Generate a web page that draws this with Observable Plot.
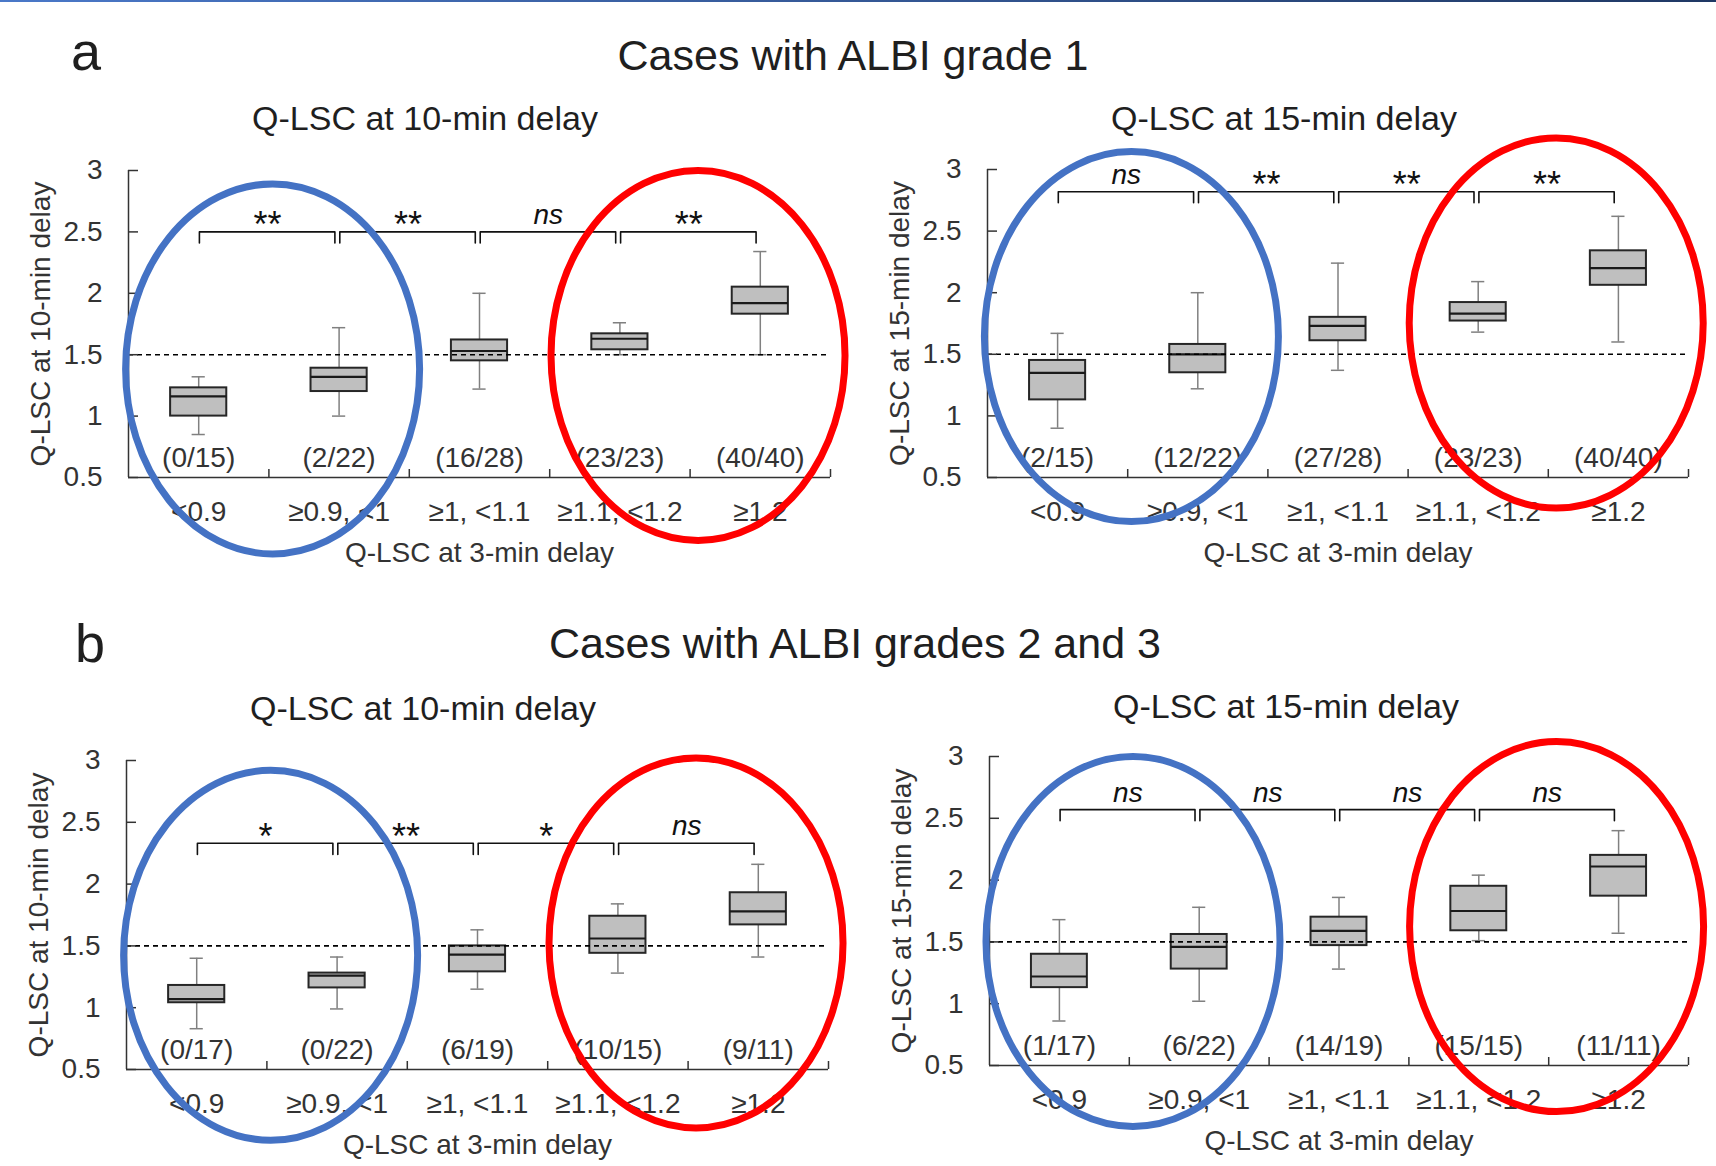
<!DOCTYPE html>
<html><head><meta charset="utf-8">
<script src="https://cdn.jsdelivr.net/npm/d3@7"></script>
<script src="https://cdn.jsdelivr.net/npm/@observablehq/plot@0.6"></script>
<style>
body{margin:0;background:#fff;}
#root{position:relative;width:1716px;height:1166px;overflow:hidden;font-family:"Liberation Sans",Arial,sans-serif;color:#1f1f1f;}
#topline{position:absolute;left:0;top:0;width:1716px;height:2px;background:linear-gradient(to right,#4a78c8,#1f3864);}
.lbl{position:absolute;transform:translate(-50%,-50%);white-space:nowrap;line-height:1;}
.panel{position:absolute;}
.panel svg{overflow:visible;}
</style></head><body><div id="root"><div id="topline"></div></div>
<script>
// ---------------- data ----------------
const groups = ["<0.9", "≥0.9, <1", "≥1, <1.1", "≥1.1, <1.2", "≥1.2"];
const yTicks = [0.5, 1, 1.5, 2, 2.5, 3];
const cutoff = 1.5;

// a: ALBI grade 1, Q-LSC at 10-min delay
const a10Low  = [0.85, 1.00, 1.22, 1.50, 1.50];
const a10Q1   = [1.00, 1.20, 1.45, 1.54, 1.83];
const a10Med  = [1.16, 1.32, 1.53, 1.63, 1.92];
const a10Q3   = [1.23, 1.39, 1.62, 1.67, 2.05];
const a10High = [1.32, 1.72, 2.00, 1.76, 2.34];
const a10Counts = ["(0/15)", "(2/22)", "(16/28)", "(23/23)", "(40/40)"];
const a10Sig = ["**", "**", "ns", "**"];

// a: ALBI grade 1, Q-LSC at 15-min delay
const a15Low  = [0.90, 1.22, 1.37, 1.68, 1.60];
const a15Q1   = [1.13, 1.35, 1.61, 1.77, 2.06];
const a15Med  = [1.35, 1.50, 1.73, 1.83, 2.20];
const a15Q3   = [1.45, 1.58, 1.80, 1.92, 2.34];
const a15High = [1.67, 2.00, 2.24, 2.09, 2.62];
const a15Counts = ["(2/15)", "(12/22)", "(27/28)", "(23/23)", "(40/40)"];
const a15Sig = ["ns", "**", "**", "**"];

// b: ALBI grades 2 and 3, Q-LSC at 10-min delay
const b10Low  = [0.83, 0.99, 1.15, 1.28, 1.41];
const b10Q1   = [1.04, 1.16, 1.29, 1.44, 1.67];
const b10Med  = [1.07, 1.26, 1.43, 1.56, 1.78];
const b10Q3   = [1.18, 1.28, 1.50, 1.74, 1.93];
const b10High = [1.40, 1.41, 1.63, 1.84, 2.16];
const b10Counts = ["(0/17)", "(0/22)", "(6/19)", "(10/15)", "(9/11)"];
const b10Sig = ["*", "**", "*", "ns"];

// b: ALBI grades 2 and 3, Q-LSC at 15-min delay
const b15Low  = [0.86, 1.02, 1.28, 1.51, 1.57];
const b15Q1   = [1.13, 1.28, 1.47, 1.59, 1.87];
const b15Med  = [1.22, 1.46, 1.59, 1.75, 2.11];
const b15Q3   = [1.40, 1.56, 1.70, 1.95, 2.20];
const b15High = [1.68, 1.78, 1.86, 2.04, 2.40];
const b15Counts = ["(1/17)", "(6/22)", "(14/19)", "(15/15)", "(11/11)"];
const b15Sig = ["ns", "ns", "ns", "ns"];

// bracket heights (data units)
const bracketLevels = {a10: 2.5, a15: 2.82, b10: 2.33, b15: 2.57};
// highlight ellipses: centre in data units
const highlights = {
  a10: [{x: 0.53, y: 1.38, color: "#4472C4"}, {x: 3.56, y: 1.49, color: "#FF0000"}],
  a15: [{x: 0.53, y: 1.64, color: "#4472C4"}, {x: 3.56, y: 1.75, color: "#FF0000"}],
  b10: [{x: 0.53, y: 1.42, color: "#4472C4"}, {x: 3.56, y: 1.52, color: "#FF0000"}],
  b15: [{x: 0.53, y: 1.50, color: "#4472C4"}, {x: 3.56, y: 1.62, color: "#FF0000"}]
};

// ---------------- drawing ----------------
const FONT = '"Liberation Sans", Arial, sans-serif';
const root = document.getElementById("root");

function addLabel(text, x, y, size, extra) {
  const d = document.createElement("div");
  d.className = "lbl";
  d.textContent = text;
  d.style.left = x + "px";
  d.style.top = y + "px";
  d.style.fontSize = size + "px";
  if (extra) Object.assign(d.style, extra);
  root.appendChild(d);
}

function ellipseMark(list) {
  return (index, scales) => {
    const g = d3.create("svg:g");
    for (const e of list) {
      g.append("ellipse")
        .attr("cx", scales.x(e.x)).attr("cy", scales.y(e.y))
        .attr("rx", 147).attr("ry", 185)
        .attr("fill", "none").attr("stroke", e.color).attr("stroke-width", 7);
    }
    return g.node();
  };
}

function panel(cfg) {
  const rows = groups.map((g, i) => ({
    i, low: cfg.low[i], q1: cfg.q1[i], med: cfg.med[i], q3: cfg.q3[i], high: cfg.high[i], count: cfg.counts[i]
  }));
  const lvl = cfg.bracket, drop = 0.09;
  const brackets = cfg.sig.map((s, i) => ({i, s}));
  const bracketPts = brackets.flatMap(b => [
    {k: b.i, x: b.i + 0.005, y: lvl - drop},
    {k: b.i, x: b.i + 0.005, y: lvl},
    {k: b.i, x: b.i + 0.97, y: lvl},
    {k: b.i, x: b.i + 0.97, y: lvl - drop}
  ]);
  const fw = cfg.width - cfg.ml - cfg.mr;
  const fh = cfg.height - cfg.mt - cfg.mb;
  const halfBox = 0.2, halfCap = 0.047;
  const plot = Plot.plot({
    width: cfg.width, height: cfg.height,
    marginLeft: cfg.ml, marginRight: cfg.mr, marginTop: cfg.mt, marginBottom: cfg.mb,
    x: {domain: [-0.5, 4.5]},
    y: {domain: [0.5, 3]},
    style: {fontFamily: FONT, fontSize: "28px", color: "#333", background: "transparent", overflow: "visible"},
    marks: [
      // whiskers
      Plot.ruleX(rows, {x: "i", y1: "low", y2: "high", stroke: "#808080", strokeWidth: 1.5}),
      Plot.ruleY(rows, {y: "low", x1: d => d.i - halfCap, x2: d => d.i + halfCap, stroke: "#808080", strokeWidth: 1.5}),
      Plot.ruleY(rows, {y: "high", x1: d => d.i - halfCap, x2: d => d.i + halfCap, stroke: "#808080", strokeWidth: 1.5}),
      // boxes
      Plot.rect(rows, {x1: d => d.i - halfBox, x2: d => d.i + halfBox, y1: "q1", y2: "q3", fill: "#bfbfbf", stroke: "#262626", strokeWidth: 2}),
      Plot.ruleY(rows, {y: "med", x1: d => d.i - halfBox, x2: d => d.i + halfBox, stroke: "#1a1a1a", strokeWidth: 2.2}),
      // cut-off line
      Plot.ruleY([cutoff], {stroke: "#000", strokeWidth: 1.6, strokeDasharray: "5,4"}),
      // axis lines and inward ticks
      Plot.ruleX([-0.5], {stroke: "#333", strokeWidth: 1.5}),
      Plot.ruleY([0.5], {stroke: "#333", strokeWidth: 1.5}),
      Plot.ruleY(yTicks, {stroke: "#333", strokeWidth: 1.5, insetRight: fw - 10}),
      Plot.ruleX([0.5, 1.5, 2.5, 3.5, 4.5], {stroke: "#333", strokeWidth: 1.5, insetTop: fh - 8}),
      Plot.axisY({ticks: yTicks, tickFormat: d => String(d), tickSize: 0, tickPadding: 26, label: null, fill: "#333"}),
      Plot.axisX({ticks: [0, 1, 2, 3, 4], tickFormat: i => groups[i], tickSize: 0, tickPadding: 24, label: null, fill: "#333"}),
      // counts
      Plot.text(rows, {x: "i", y: 0.5, text: "count", dy: -19, fill: "#333"}),
      // significance brackets
      Plot.line(bracketPts, {x: "x", y: "y", z: "k", stroke: "#111", strokeWidth: 1.6}),
      Plot.text(brackets.filter(b => b.s !== "ns"), {x: d => d.i + 0.49, y: lvl, text: "s", dy: -6, fill: "#111", fontSize: 36}),
      Plot.text(brackets.filter(b => b.s === "ns"), {x: d => d.i + 0.49, y: lvl, text: "s", dy: -17, fill: "#111", fontSize: 28, fontStyle: "italic"}),
      // axis titles
      Plot.text([cfg.yLabel], {frameAnchor: "left", textAnchor: "middle", lineAnchor: "middle", text: d => d, rotate: -90, dx: -87, fill: "#333", fontSize: 28}),
      Plot.text([cfg.xLabel], {frameAnchor: "bottom", textAnchor: "middle", lineAnchor: "middle", text: d => d, dy: 76, fill: "#333", fontSize: 28}),
      // highlights
      ellipseMark(cfg.hl)
    ]
  });
  const wrap = document.createElement("div");
  wrap.className = "panel";
  wrap.style.left = cfg.left + "px";
  wrap.style.top = cfg.top + "px";
  wrap.appendChild(plot);
  root.appendChild(wrap);
}

const xTitle = "Q-LSC at 3-min delay";
panel({left: 0, top: 0, width: 858, height: 580, ml: 128, mr: 28, mt: 170, mb: 103,
  low: a10Low, q1: a10Q1, med: a10Med, q3: a10Q3, high: a10High, counts: a10Counts, sig: a10Sig,
  bracket: bracketLevels.a10, hl: highlights.a10, yLabel: "Q-LSC at 10-min delay", xLabel: xTitle});
panel({left: 858, top: 0, width: 858, height: 580, ml: 129, mr: 28, mt: 169, mb: 103,
  low: a15Low, q1: a15Q1, med: a15Med, q3: a15Q3, high: a15High, counts: a15Counts, sig: a15Sig,
  bracket: bracketLevels.a15, hl: highlights.a15, yLabel: "Q-LSC at 15-min delay", xLabel: xTitle});
panel({left: 0, top: 580, width: 858, height: 586, ml: 126, mr: 30, mt: 180, mb: 97,
  low: b10Low, q1: b10Q1, med: b10Med, q3: b10Q3, high: b10High, counts: b10Counts, sig: b10Sig,
  bracket: bracketLevels.b10, hl: highlights.b10, yLabel: "Q-LSC at 10-min delay", xLabel: xTitle});
panel({left: 858, top: 580, width: 858, height: 586, ml: 131, mr: 28, mt: 176, mb: 101,
  low: b15Low, q1: b15Q1, med: b15Med, q3: b15Q3, high: b15High, counts: b15Counts, sig: b15Sig,
  bracket: bracketLevels.b15, hl: highlights.b15, yLabel: "Q-LSC at 15-min delay", xLabel: xTitle});

// titles
addLabel("a", 86, 51, 54);
addLabel("Cases with ALBI grade 1", 853, 55, 43);
addLabel("Q-LSC at 10-min delay", 425, 118, 34);
addLabel("Q-LSC at 15-min delay", 1284, 118, 34);
addLabel("b", 90, 643, 54);
addLabel("Cases with ALBI grades 2 and 3", 855, 643, 43);
addLabel("Q-LSC at 10-min delay", 423, 708, 34);
addLabel("Q-LSC at 15-min delay", 1286, 706, 34);
</script></body></html>
